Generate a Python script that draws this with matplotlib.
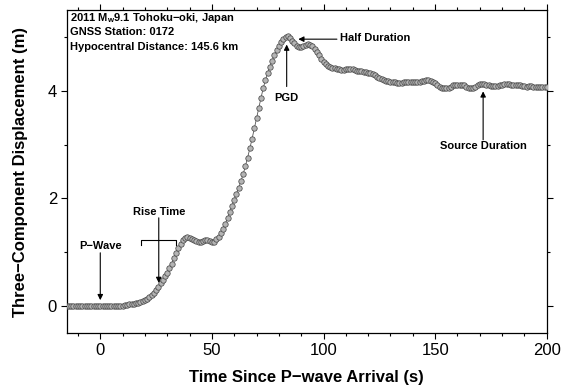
import numpy as np
import matplotlib
matplotlib.use("Agg")
import matplotlib.pyplot as plt
from matplotlib.ticker import MultipleLocator

plt.rcParams['font.family'] = ['Liberation Sans', 'DejaVu Sans']
plt.rcParams['mathtext.fontset'] = 'custom'
plt.rcParams['mathtext.rm'] = 'Liberation Sans'
plt.rcParams['mathtext.bf'] = 'Liberation Sans:bold'

# time since P-wave arrival (s), 1 s sampling
time_s = np.arange(-15, 201)
# three-component displacement (m)
displacement = [
    0.01, 0.00, 0.01, 0.00, 0.00, 0.01, 0.00, 0.01, 0.00, 0.00,
    0.00, 0.01, 0.00, 0.00, 0.01, 0.00, 0.00, 0.01, 0.00, 0.01,
    0.00, 0.01, 0.01, 0.00, 0.01, 0.01, 0.02, 0.02, 0.03, 0.03,
    0.04, 0.05, 0.06, 0.08, 0.10, 0.12, 0.14, 0.17, 0.21, 0.25,
    0.30, 0.36, 0.42, 0.48, 0.55, 0.62, 0.70, 0.79, 0.89, 0.99,
    1.08, 1.16, 1.22, 1.26, 1.28, 1.27, 1.25, 1.23, 1.21, 1.20,
    1.20, 1.21, 1.22, 1.22, 1.21, 1.20, 1.20, 1.24, 1.29, 1.36,
    1.44, 1.53, 1.63, 1.74, 1.86, 1.98, 2.09, 2.20, 2.32, 2.45,
    2.60, 2.76, 2.93, 3.11, 3.30, 3.49, 3.68, 3.87, 4.05, 4.20,
    4.33, 4.45, 4.56, 4.66, 4.75, 4.83, 4.90, 4.96, 5.00, 5.01,
    4.98, 4.93, 4.88, 4.84, 4.82, 4.82, 4.84, 4.86, 4.87, 4.86,
    4.83, 4.78, 4.72, 4.66, 4.60, 4.54, 4.49, 4.46, 4.44, 4.43,
    4.42, 4.41, 4.40, 4.39, 4.39, 4.40, 4.41, 4.41, 4.40, 4.38,
    4.37, 4.36, 4.36, 4.35, 4.35, 4.34, 4.33, 4.31, 4.29, 4.26,
    4.24, 4.22, 4.20, 4.19, 4.18, 4.17, 4.16, 4.16, 4.15, 4.15,
    4.15, 4.16, 4.16, 4.17, 4.17, 4.17, 4.16, 4.16, 4.17, 4.18,
    4.19, 4.20, 4.20, 4.19, 4.17, 4.14, 4.11, 4.08, 4.06, 4.05,
    4.05, 4.06, 4.08, 4.10, 4.11, 4.11, 4.11, 4.11, 4.10, 4.08,
    4.06, 4.05, 4.06, 4.08, 4.11, 4.13, 4.13, 4.12, 4.11, 4.10,
    4.09, 4.09, 4.09, 4.09, 4.10, 4.11, 4.12, 4.13, 4.12, 4.11,
    4.11, 4.10, 4.10, 4.10, 4.09, 4.09, 4.08, 4.09, 4.09, 4.08,
    4.08, 4.08, 4.07, 4.08, 4.08, 4.07,
]

info_lines = ["2011 M$_\\mathbf{w}$9.1 Tohoku\u2212oki, Japan",
              "GNSS Station: 0172",
              "Hypocentral Distance: 145.6 km"]

fig = plt.figure(figsize=(5.66, 3.89), dpi=100)
ax = fig.add_axes([0.118, 0.144, 0.848, 0.830])

ax.plot(time_s, displacement, '-', color='#555555', lw=0.6, zorder=2)
ax.plot(time_s, displacement, 'o', ms=3.9, mfc='#b4b4b4', mec='#4a4a4a',
        mew=0.55, zorder=3)

ax.set_xlim(-15, 200)
ax.set_ylim(-0.5, 5.5)
ax.xaxis.set_major_locator(MultipleLocator(50))
ax.xaxis.set_minor_locator(MultipleLocator(10))
ax.yaxis.set_major_locator(MultipleLocator(2))
ax.yaxis.set_minor_locator(MultipleLocator(1))
ax.tick_params(which='both', direction='out', top=True, right=True,
               labelsize=12, width=0.8)
ax.tick_params(which='major', length=4, pad=3)
ax.tick_params(which='minor', length=2)
for s in ax.spines.values():
    s.set_linewidth(0.9)

ax.set_xlabel("Time Since P\u2212wave Arrival (s)", fontsize=12,
              fontweight='bold', labelpad=9)
ax.set_ylabel("Three\u2212Component Displacement (m)", fontsize=12,
              fontweight='bold', labelpad=14)

for i, line in enumerate(info_lines):
    ax.text(0.007, 0.977 - i * 0.045, line, transform=ax.transAxes,
            fontsize=8, fontweight='bold', va='center', ha='left')

ann_kw = dict(fontsize=8, fontweight='bold')
arrow = dict(arrowstyle='-|>', color='k', lw=0.8, mutation_scale=8,
             shrinkA=0, shrinkB=0)

# P-Wave
ax.text(0, 1.12, "P\u2212Wave", ha='center', va='center', **ann_kw)
ax.annotate("", xy=(0, 0.11), xytext=(0, 0.99), arrowprops=arrow)
# Rise Time
ax.text(26.2, 1.75, "Rise Time", ha='center', va='center', **ann_kw)
ax.annotate("", xy=(26.2, 0.43), xytext=(26.2, 1.64), arrowprops=arrow)
ax.plot([18.2, 18.2, 34, 34], [1.13, 1.22, 1.22, 1.13], color='k', lw=0.8)
# PGD
ax.text(83.5, 3.86, "PGD", ha='center', va='center', **ann_kw)
ax.annotate("", xy=(83.5, 4.86), xytext=(83.5, 4.08), arrowprops=arrow)
# Half Duration
ax.text(107.4, 4.98, "Half Duration", ha='left', va='center', **ann_kw)
ax.annotate("", xy=(88.7, 4.96), xytext=(106, 4.96), arrowprops=arrow)
# Source Duration
ax.text(171.5, 2.98, "Source Duration", ha='center', va='center', **ann_kw)
ax.annotate("", xy=(171.5, 3.99), xytext=(171.5, 3.09), arrowprops=arrow)

fig.savefig("out.png", dpi=100)
